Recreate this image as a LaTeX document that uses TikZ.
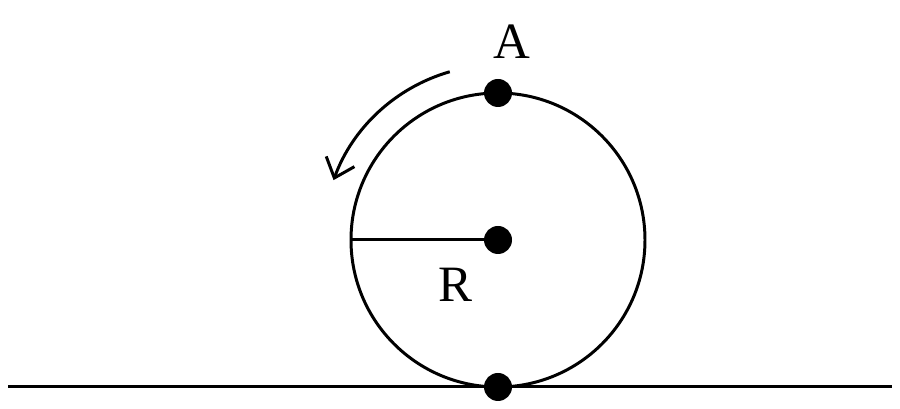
\documentclass[tikz,border=0pt]{standalone}
\usepackage{fontspec}
\setmainfont{Liberation Serif}
\usetikzlibrary{calc,arrows.meta}
\begin{document}
\begin{tikzpicture}[line width=1.7pt,
	dot/.style={circle, fill=black, inner sep=0pt, minimum size=0.56cm},
	lbl/.style={font=\fontsize{29}{32}\selectfont, inner sep=0pt}]
	\useasboundingbox (0,0) rectangle (18,8.18);
	\coordinate (centerO) at (9.96,3.38);
	\def\radiusO{2.94cm};
	\def\radiusArc{3.5cm};
	
	% ground and wheel
	\draw (0.16,0.44) -- (17.84,0.44);
	\draw (centerO) circle [radius=\radiusO];
	\node[dot] (center) at (centerO) {};
	\node[dot] (top) at ($(centerO) + (90:\radiusO)$) {};
	\node[dot] (bottom) at ($(centerO) + (-90:\radiusO)$) {};
	\coordinate (rimLeft) at ($(centerO) + (180:\radiusO)$);
	\draw (center.center) -- (rimLeft);
	
	% labels
	\node[lbl] (labelA) at (10.24,7.34) {A};
	\node[lbl] (labelR) at (9.1,2.48) {R};
	
	% rotation
	\draw[-{Straight Barb[length=0.35cm,width=0.6cm]}] ($(centerO) + (106:\radiusArc)$) arc[start angle=106, end angle=160, radius=\radiusArc];
\end{tikzpicture}
\end{document}
